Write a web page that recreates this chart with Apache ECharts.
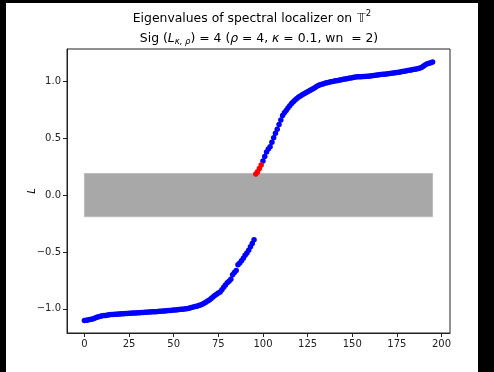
<!DOCTYPE html>
<html>
<head>
<meta charset="utf-8">
<script src="https://cdn.jsdelivr.net/npm/echarts@6/dist/echarts.min.js"></script>
<style>
  html, body { margin: 0; padding: 0; background: #000; }
  #chart { position: absolute; left: 6px; top: 3px; width: 472px; height: 369px; background: #fff; }
</style>
</head>
<body>
<div id="chart"></div>
<script>
// eigenvalues, sorted, index 0..195
const eigenvalues = [
  -1.103, -1.100, -1.098, -1.095, -1.092, -1.088, -1.080, -1.075, -1.070, -1.066,
  -1.062, -1.060, -1.058, -1.055, -1.053, -1.051, -1.050, -1.049, -1.047, -1.046,
  -1.045, -1.044, -1.043, -1.042, -1.041, -1.040, -1.039, -1.038, -1.037, -1.036,
  -1.035, -1.034, -1.033, -1.032, -1.031, -1.030, -1.029, -1.028, -1.027, -1.026,
  -1.025, -1.024, -1.022, -1.021, -1.020, -1.019, -1.017, -1.016, -1.014, -1.013,
  -1.011, -1.010, -1.008, -1.007, -1.005, -1.004, -1.002, -1.000, -0.997, -0.993,
  -0.989, -0.985, -0.981, -0.977, -0.972, -0.967, -0.960, -0.951, -0.942, -0.932,
  -0.922, -0.910, -0.896, -0.883, -0.873, -0.862, -0.852, -0.832, -0.810, -0.790,
  -0.772, -0.758, -0.740, -0.700, -0.680, -0.663, -0.612, -0.598, -0.578, -0.555,
  -0.530, -0.510, -0.485, -0.455, -0.425, -0.392,
  0.185, 0.205, 0.235, 0.265,
  0.300, 0.340, 0.380, 0.405, 0.425, 0.465, 0.505, 0.545, 0.580, 0.620,
  0.660, 0.700, 0.725, 0.745, 0.765, 0.785, 0.805, 0.822, 0.837, 0.850,
  0.862, 0.872, 0.882, 0.892, 0.900, 0.910, 0.918, 0.927, 0.935, 0.945,
  0.955, 0.963, 0.970, 0.975, 0.980, 0.985, 0.989, 0.993, 0.997, 1.000,
  1.003, 1.006, 1.009, 1.012, 1.015, 1.018, 1.021, 1.024, 1.027, 1.030,
  1.033, 1.036, 1.038, 1.040, 1.041, 1.042, 1.043, 1.044, 1.045, 1.046,
  1.048, 1.050, 1.052, 1.054, 1.056, 1.058, 1.060, 1.062, 1.064, 1.066,
  1.068, 1.070, 1.072, 1.074, 1.076, 1.078, 1.080, 1.083, 1.086, 1.089,
  1.092, 1.095, 1.098, 1.101, 1.104, 1.107, 1.110, 1.114, 1.118, 1.125,
  1.135, 1.147, 1.155, 1.160, 1.165, 1.170
];
// indices drawn in red
const redIndices = [96, 97, 98, 99];
// grey band: x from 0 to 195, y from -0.19 to 0.19
const bandX = [0, 195];
const bandY = [-0.19, 0.19];
const xTicks = [0, 25, 50, 75, 100, 125, 150, 175, 200];
const yTicks = [-1.0, -0.5, 0.0, 0.5, 1.0];

let bluePts = [];
let redPts = [];
eigenvalues.forEach(function(v, i) {
    if (redIndices.indexOf(i) >= 0) redPts.push([i, v]);
    else bluePts.push([i, v]);
});

function fmtY(v) {
    let s = Math.abs(v).toFixed(1);
    return v < 0 ? '\u2212' + s : s;
}

const font = 'DejaVu Sans';
const fs = 12.4;
const richStyles = {
    bb: { fontFamily: font, fontSize: fs, color: '#000', padding: [0, 0, 0, 1] },
    sup: { fontFamily: font, fontSize: 8.5, color: '#000', verticalAlign: 'top', lineHeight: 20, padding: [0, 0, 6, 0] },
    it: { fontFamily: font, fontSize: fs, fontStyle: 'italic', color: '#000' },
    sub: { fontFamily: font, fontSize: 8.5, fontStyle: 'italic', color: '#000', padding: [6, 0, 0, 0] }
};
let chart = echarts.init(document.getElementById('chart'));
let option = {
    animation: false,
    title: [
        {
            text: 'Eigenvalues of spectral localizer on {bb|𝕋}{sup|2}',
            left: 241, top: 1, textAlign: 'center',
            textStyle: { fontFamily: font, fontSize: fs, fontWeight: 'normal', color: '#000', lineHeight: 20, rich: richStyles }
        },
        {
            text: 'Sig ({it|L}{sub|κ, ρ}) = 4 ({it|ρ} = 4, {it|κ} = 0.1, wn  = 2)',
            left: 248, top: 21, textAlign: 'center',
            textStyle: { fontFamily: font, fontSize: fs, fontWeight: 'normal', color: '#000', lineHeight: 20, rich: richStyles }
        }
    ],
    grid: {
        left: 61, right: 28, top: 46, bottom: 39,
        show: true, borderColor: '#222', borderWidth: 1, backgroundColor: 'transparent'
    },
    xAxis: {
        type: 'value',
        min: -9.75, max: 204.75,
        splitLine: { show: false },
        axisLine: { show: true, onZero: false, lineStyle: { color: '#222', width: 1 } },
        axisTick: { show: true, length: 4, lineStyle: { color: '#222' }, customValues: xTicks },
        axisLabel: { fontFamily: font, fontSize: 10, color: '#222', margin: 6, customValues: xTicks }
    },
    yAxis: {
        type: 'value',
        min: -1.213, max: 1.285,
        name: 'L',
        nameLocation: 'middle',
        nameGap: 30,
        nameMoveOverlap: false,
        nameTextStyle: { fontFamily: font, fontSize: 10, fontStyle: 'italic', color: '#000' },
        splitLine: { show: false },
        axisLine: { show: true, onZero: false, lineStyle: { color: '#222', width: 1 } },
        axisTick: { show: true, length: 4, lineStyle: { color: '#222' }, customValues: yTicks },
        axisLabel: { fontFamily: font, fontSize: 10, color: '#222', margin: 6, customValues: yTicks, formatter: fmtY }
    },
    series: [
        {
            type: 'scatter',
            data: [],
            z: 1,
            markArea: {
                silent: true,
                itemStyle: { color: '#a8a8a8', borderColor: '#bcbcbc', borderWidth: 1 },
                data: [[{ coord: [bandX[0], bandY[0]] }, { coord: [bandX[1], bandY[1]] }]]
            }
        },
        {
            type: 'scatter',
            data: bluePts,
            symbolSize: 5.5,
            itemStyle: { color: '#0000ff', opacity: 1 },
            z: 3
        },
        {
            type: 'scatter',
            data: redPts,
            symbolSize: 5.5,
            itemStyle: { color: '#ff0000', opacity: 1 },
            z: 4
        }
    ]
};
chart.setOption(option);
</script>
</body>
</html>
